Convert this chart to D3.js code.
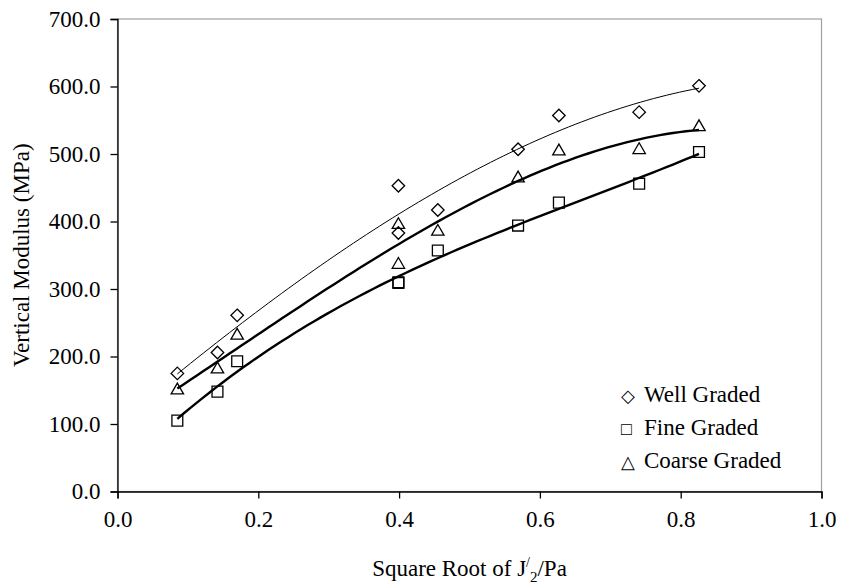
<!DOCTYPE html>
<html>
<head>
<meta charset="utf-8">
<script src="https://cdn.jsdelivr.net/npm/d3@7"></script>
<style>
  html, body { margin: 0; padding: 0; background: #fff; }
  svg text { font-family: "Liberation Serif", "Times New Roman", serif; fill: #000; }
</style>
</head>
<body>
<svg id="chart" width="841" height="588"></svg>
<script>
// ---- data ----
const xValues = [0.085, 0.142, 0.170, 0.399, 0.399, 0.455, 0.569, 0.627, 0.741, 0.826];
const wellGraded   = [175, 206, 261, 453, 383, 417, 507, 557, 562, 601];
const fineGraded   = [105, 148, 193, 310, 309, 357, 394, 428, 456, 503];
const coarseGraded = [150, 181, 231, 395, 336, 385, 464, 504, 506, 540];
const seriesNames = ["Well Graded", "Fine Graded", "Coarse Graded"];
const trendOrders = [3, 3, 3];
const legendGlyphs = ["\u25C7", "\u25A1", "\u25B3"];
const xTicks = [0, 0.2, 0.4, 0.6, 0.8, 1.0];
const yTicks = [0, 100, 200, 300, 400, 500, 600, 700];

(function () {
const series = [
  { name: seriesNames[0], values: wellGraded,   order: trendOrders[0], symbol: d3.symbolDiamond2, size: 100, lw: 1.0 },
  { name: seriesNames[1], values: fineGraded,   order: trendOrders[1], symbol: d3.symbolSquare2,  size: 150, lw: 2.4 },
  { name: seriesNames[2], values: coarseGraded, order: trendOrders[2], symbol: d3.symbolTriangle2, size: 110, lw: 2.4 }
];

const svg = d3.select("#chart");
const pL = 117.5, pR = 821.5, pT = 19, pB = 491.5;
const x = d3.scaleLinear().domain([0, 1]).range([pL, pR]);
const y = d3.scaleLinear().domain([0, 700]).range([pB, pT]);

svg.append("rect").attr("x", pL).attr("y", pT)
  .attr("width", pR - pL).attr("height", pB - pT)
  .attr("fill", "none").attr("stroke", "#a0a0a0").attr("stroke-width", 1.2);

const fs = 23;
const yAxis = svg.append("g").attr("transform", `translate(${pL},0)`)
  .call(d3.axisLeft(y).tickValues(yTicks).tickFormat(d3.format(".1f")).tickSizeOuter(0).tickSize(7).tickPadding(10));
const xAxis = svg.append("g").attr("transform", `translate(0,${pB})`)
  .call(d3.axisBottom(x).tickValues(xTicks).tickFormat(d3.format(".1f")).tickSizeOuter(0).tickSize(7).tickPadding(12));
[yAxis, xAxis].forEach(g => {
  g.selectAll("path").attr("stroke", "#000").attr("stroke-width", 1.3);
  g.selectAll("line").attr("stroke", "#000").attr("stroke-width", 1.3);
  g.selectAll("text").attr("font-size", fs).attr("fill", "#000");
});

// polynomial least-squares trendline (spreadsheet-style)
function polyFit(xs, ys, order) {
  const m = order + 1;
  const A = [];
  for (let r = 0; r < m; r++) {
    A.push([]);
    for (let c = 0; c < m; c++) A[r].push(d3.sum(xs, xi => Math.pow(xi, r + c)));
    A[r].push(d3.sum(xs, (xi, i) => ys[i] * Math.pow(xi, r)));
  }
  for (let i = 0; i < m; i++) {
    let p = i;
    for (let r = i + 1; r < m; r++) if (Math.abs(A[r][i]) > Math.abs(A[p][i])) p = r;
    [A[i], A[p]] = [A[p], A[i]];
    for (let r = 0; r < m; r++) if (r !== i) {
      const f = A[r][i] / A[i][i];
      for (let c = i; c <= m; c++) A[r][c] -= f * A[i][c];
    }
  }
  const coef = A.map((row, i) => row[m] / row[i]);
  return xv => d3.sum(coef, (c, k) => c * Math.pow(xv, k));
}

const xmin = d3.min(xValues), xmax = d3.max(xValues);
const line = d3.line().x(d => x(d[0])).y(d => y(d[1]));

series.forEach(s => {
  svg.append("g").selectAll("path").data(xValues.map((xv, i) => [xv, s.values[i]]))
    .join("path")
    .attr("transform", d => `translate(${x(d[0])},${y(d[1])})`)
    .attr("d", d3.symbol().type(s.symbol).size(s.size))
    .attr("fill", "none").attr("stroke", "#000").attr("stroke-width", 1.3);
});

series.forEach(s => {
  const f = polyFit(xValues, s.values, s.order);
  const pts = d3.range(0, 81).map(i => {
    const xv = xmin + (xmax - xmin) * i / 80;
    return [xv, f(xv)];
  });
  svg.append("path").attr("d", line(pts)).attr("fill", "none")
    .attr("stroke", "#000").attr("stroke-width", s.lw);
});

const lg = svg.append("g").attr("font-size", fs);
seriesNames.forEach((nm, i) => {
  const by = 402 + i * 33;
  lg.append("text").attr("x", 621).attr("y", by).attr("font-size", 18).text(legendGlyphs[i]);
  lg.append("text").attr("x", 644).attr("y", by).text(nm);
});

const xt = svg.append("text").attr("x", (pL + pR) / 2).attr("y", 576)
  .attr("text-anchor", "middle").attr("font-size", fs);
xt.append("tspan").text("Square Root of J");
xt.append("tspan").attr("font-size", 14).attr("dy", -9).text("/");
xt.append("tspan").attr("font-size", 15).attr("dy", 15).text("2");
xt.append("tspan").attr("dy", -6).text("/Pa");

svg.append("text").attr("transform", `translate(29,${(pT + pB) / 2}) rotate(-90)`)
  .attr("text-anchor", "middle").attr("font-size", fs).text("Vertical Modulus (MPa)");
})();
</script>
</body>
</html>
